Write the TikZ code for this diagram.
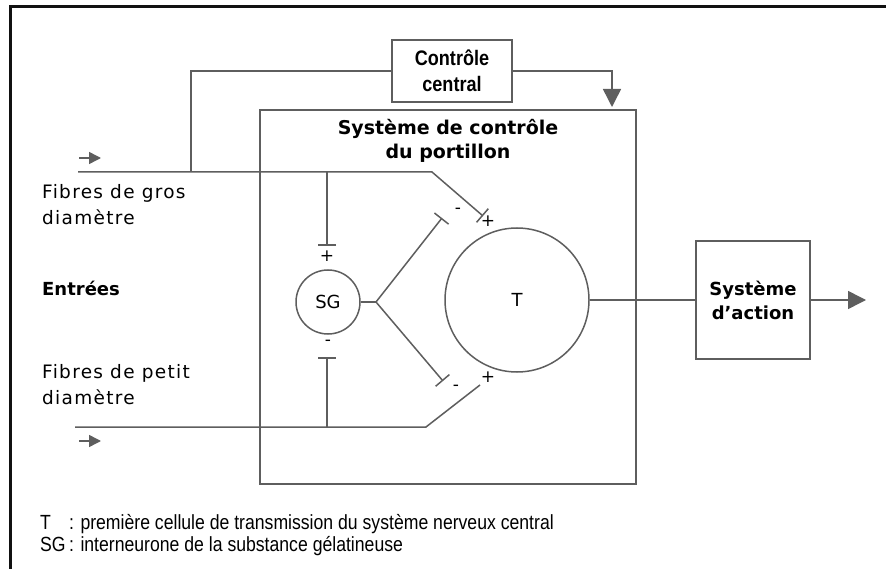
\documentclass[tikz,border=0pt]{standalone}
\usepackage{fontspec}
\setmainfont{DejaVu Sans}
\newfontfamily\etroite[FakeStretch=0.86]{Liberation Sans}
\usetikzlibrary{arrows.meta,positioning}
\definecolor{gris}{HTML}{5E5E5E}
\definecolor{cadre}{HTML}{111111}

\begin{document}
\begin{tikzpicture}[x=1pt,y=-1pt,
  trait/.style={gris,line width=1.5pt},
  fleche/.style={trait,-{Triangle[length=18pt,width=18pt]}},
  petite/.style={trait,-{Triangle[length=12pt,width=12pt]}},
  borne/.style={trait,-{Bar[width=18pt,line width=1.5pt]}},
  boite/.style={draw=gris,line width=1.5pt,text=black,inner sep=0pt,align=center},
  texte/.style={font=\fontsize{18.5}{26}\selectfont\addfontfeature{LetterSpace=7},anchor=west,align=left,inner sep=0pt},
  gras/.style={font=\fontsize{19}{24}\selectfont\bfseries,align=center,inner sep=0pt},
  signe/.style={font=\fontsize{17}{17}\selectfont,inner sep=0pt}]
\useasboundingbox (0,0) rectangle (886,569);
\draw[cadre,line width=3pt] (10,569) -- (10,7) -- (886,7);

\node[boite,minimum width=376pt,minimum height=374pt] (portillon) at (448,297) {};
\node[gras,below=10pt of portillon.north] (titre) {Système de contrôle\\du portillon};
\node[boite,minimum width=120pt,minimum height=62pt,font=\etroite\fontsize{21}{26}\selectfont\bfseries] (central) at (452,71) {Contrôle\\central};
\node[boite,minimum width=114pt,minimum height=118pt,font=\fontsize{18}{24}\selectfont\bfseries] (action) at (753,300) {Système\\d'action};
\node[boite,circle,minimum size=64pt,font=\fontsize{18}{18}\selectfont] (sg) at (328,302) {SG};
\node[boite,circle,minimum size=144pt,font=\fontsize{18}{18}\selectfont] (t) at (517,300) {T};

\node[texte] (gros) at (42,205) {Fibres de gros\\diamètre};
\node[texte,font=\fontsize{18}{26}\selectfont\bfseries] (entrees) at (42,288) {Entrées};
\node[texte] (petit) at (42,385) {Fibres de petit\\diamètre};
\node[anchor=north west,inner sep=0pt,font=\etroite\fontsize{20.5}{22}\selectfont] (legende) at (40,514)
  {\begin{tabular}{@{}l@{\,}l@{}}T & : première cellule de transmission du système nerveux central\\
   SG & : interneurone de la substance gélatineuse\end{tabular}};

\coordinate (grosA) at (79,158);
\coordinate (grosB) at (101,158);
\coordinate (petitA) at (79,441);
\coordinate (petitB) at (101,441);
\draw[petite] (grosA) -- (grosB);
\draw[petite] (petitA) -- (petitB);

\coordinate (gdebut) at (78,172);
\coordinate (gcoude) at (432,172);
\coordinate (gfin) at (483,216);
\coordinate (derive) at (191,172);
\coordinate (sghaut) at (327,172);
\coordinate (pdebut) at (75,427);
\coordinate (pcoude) at (426,427);
\coordinate (pfin) at (480,385);
\coordinate (sgbas) at (327,427);
\coordinate (fourche) at (376,302);
\coordinate (entree) at (612,107);
\coordinate (sortie) at (866,300);

\draw[borne] (gdebut) -- (gcoude) -- (gfin);
\draw[trait] (derive) |- (central.west);
\draw[fleche] (central.east) -| (entree);
\draw[borne] (sghaut) -- (327,246);
\draw[trait] (pdebut) -- (pcoude) -- (pfin);
\draw[borne] (sgbas) -- (327,357);
\draw[trait] (sg.east) -- (fourche);
\draw[borne] (fourche) -- (442,218);
\draw[borne] (fourche) -- (443,381);
\draw[trait] (t.east) -- (action.west);
\draw[fleche] (action.east) -- (sortie);

\node[signe] (p1) at (327,256) {+};
\node[signe] (m1) at (328,343) {-};
\node[signe] (m2) at (458,211) {-};
\node[signe] (p2) at (488,221) {+};
\node[signe] (m3) at (456,388) {-};
\node[signe] (p3) at (488,377) {+};
\end{tikzpicture}
\end{document}
